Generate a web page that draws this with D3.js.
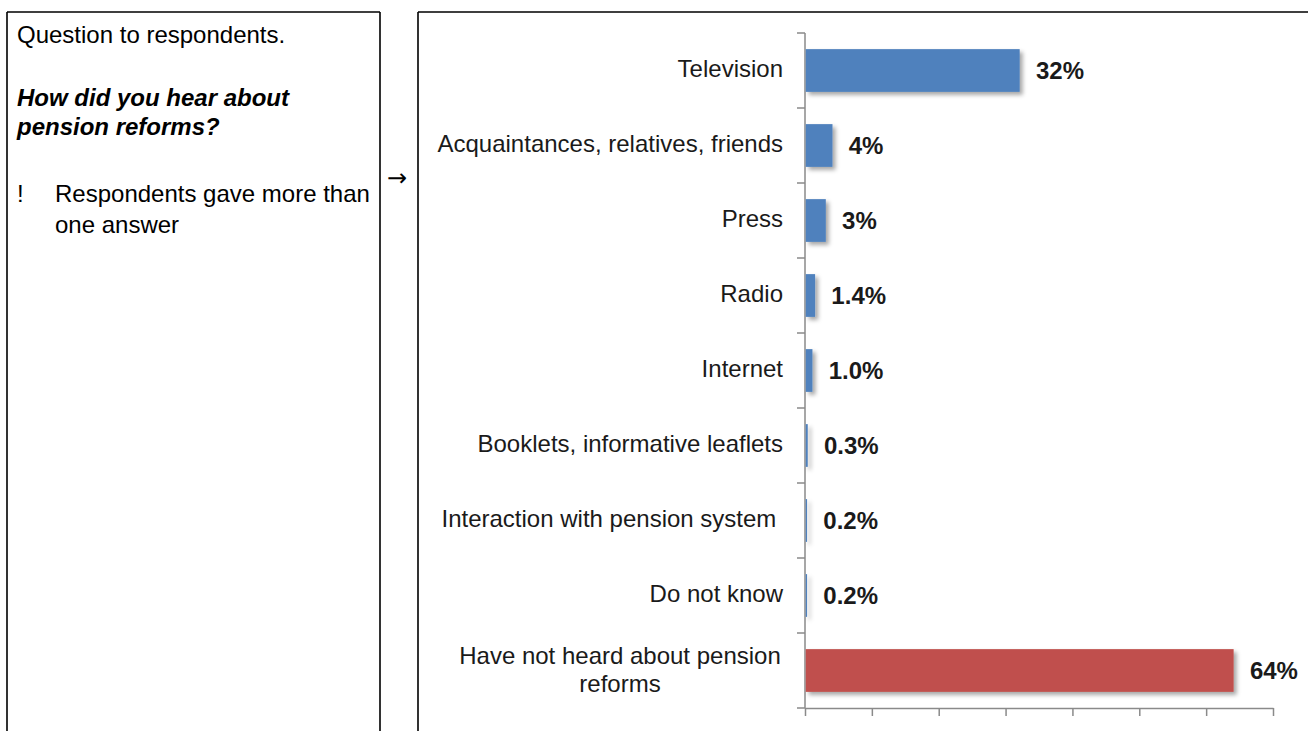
<!DOCTYPE html>
<html>
<head>
<meta charset="utf-8">
<script src="https://cdn.jsdelivr.net/npm/d3@7"></script>
<style>
  html, body { margin: 0; padding: 0; background: #fff; }
  svg { display: block; }
  text { font-family: "Liberation Sans", Arial, sans-serif; white-space: pre; }
  text.arrow { font-family: "DejaVu Sans", sans-serif; }
</style>
</head>
<body>
<svg id="chart" width="1308" height="731"></svg>
<script>
// Survey answers: "How did you hear about pension reforms?"
const categories = [
  "Television",
  "Acquaintances, relatives, friends",
  "Press",
  "Radio",
  "Internet",
  "Booklets, informative leaflets",
  "Interaction with pension system ",
  "Do not know",
  "Have not heard about pension reforms"
];
const values = [32, 4, 3, 1.4, 1.0, 0.3, 0.2, 0.2, 64];
const valueLabels = ["32%", "4%", "3%", "1.4%", "1.0%", "0.3%", "0.2%", "0.2%", "64%"];
const highlighted = ["Have not heard about pension reforms"];
const xTicks = [0, 10, 20, 30, 40, 50, 60, 70];

// Wrapped lines for long category labels
const labelLines = {
  "Have not heard about pension reforms": ["Have not heard about pension", "reforms"]
};

const svg = d3.select("#chart");

// Drop shadow for the bars
const defs = svg.append("defs");
const shadow = defs.append("filter").attr("id", "barShadow")
  .attr("x", "-10%").attr("y", "-20%").attr("width", "130%").attr("height", "160%");
shadow.append("feDropShadow")
  .attr("dx", 3).attr("dy", 3).attr("stdDeviation", 2)
  .attr("flood-color", "#000").attr("flood-opacity", 0.35);

// Table frame around the question cell and the chart cell
const frame = svg.append("g").attr("stroke", "#000").attr("stroke-width", 1.6).attr("fill", "none");
frame.append("path").attr("d", "M7,12H380M7,12V731M380,12V731");
frame.append("path").attr("d", "M418,12V731M418,12H1308");

// Question text
const q = svg.append("g").attr("fill", "#000").attr("font-size", 24);
q.append("text").attr("x", 17).attr("y", 43).text("Question to respondents.");
q.append("text").attr("x", 17).attr("y", 106).attr("font-weight", "bold").attr("font-style", "italic")
  .text("How did you hear about");
q.append("text").attr("x", 17).attr("y", 135).attr("font-weight", "bold").attr("font-style", "italic")
  .text("pension reforms?");
q.append("text").attr("x", 17).attr("y", 202).text("!");
q.append("text").attr("x", 55).attr("y", 202).text("Respondents gave more than");
q.append("text").attr("x", 55).attr("y", 233).text("one answer");

svg.append("text").attr("class", "arrow").attr("x", 387).attr("y", 186)
  .attr("font-size", 24).attr("fill", "#000")
  .text("\u2192");

// Scales
const x = d3.scaleLinear().domain([0, 70]).range([805, 1273]);
const y = d3.scaleBand().domain(categories).range([33, 708])
  .paddingInner(0.43).paddingOuter(0.215);

const axisColor = "#8a8a8a";

// Horizontal axis with downward ticks
const xAxis = svg.append("g")
  .attr("transform", `translate(0,${y.range()[1]})`)
  .call(d3.axisBottom(x).tickValues(xTicks).tickFormat("").tickSize(8).tickSizeOuter(0));
xAxis.selectAll("path, line").attr("stroke", axisColor).attr("stroke-width", 1.5);

// Vertical axis with ticks on category boundaries
const yAxis = svg.append("g").attr("stroke", axisColor).attr("stroke-width", 1.5);
yAxis.append("line")
  .attr("x1", x(0)).attr("x2", x(0))
  .attr("y1", y.range()[0]).attr("y2", y.range()[1]);
const boundaries = d3.range(categories.length + 1).map(i => y.range()[0] + i * y.step());
yAxis.selectAll("line.tick").data(boundaries).join("line")
  .attr("class", "tick")
  .attr("x1", x(0) - 8).attr("x2", x(0))
  .attr("y1", d => d).attr("y2", d => d);

// Bars
const rows = categories.map((c, i) => ({ cat: c, value: values[i], label: valueLabels[i] }));
svg.append("g").attr("filter", "url(#barShadow)")
  .selectAll("rect").data(rows).join("rect")
  .attr("x", x(0) + 0.75)
  .attr("y", d => y(d.cat))
  .attr("width", d => x(d.value) - x(0))
  .attr("height", y.bandwidth())
  .attr("fill", d => highlighted.includes(d.cat) ? "#C0504D" : "#4F81BD");

// Value labels
svg.append("g").attr("font-size", 24).attr("font-weight", "bold").attr("fill", "#1a1a1a")
  .selectAll("text").data(rows).join("text")
  .attr("x", d => x(d.value) + 17)
  .attr("y", d => y(d.cat) + y.bandwidth() / 2 + 8.5)
  .text(d => d.label);

// Category labels
const catG = svg.append("g").attr("font-size", 24).attr("fill", "#1a1a1a");
rows.forEach(d => {
  const cy = y(d.cat) + y.bandwidth() / 2;
  const lines = labelLines[d.cat];
  if (lines) {
    const t = catG.append("text").attr("text-anchor", "middle");
    lines.forEach((ln, i) => {
      t.append("tspan").attr("x", 620).attr("y", cy - 7 + i * 28).text(ln);
    });
  } else {
    catG.append("text").attr("text-anchor", "end")
      .attr("x", x(0) - 22).attr("y", cy + 6)
      .text(d.cat);
  }
});
</script>
</body>
</html>
